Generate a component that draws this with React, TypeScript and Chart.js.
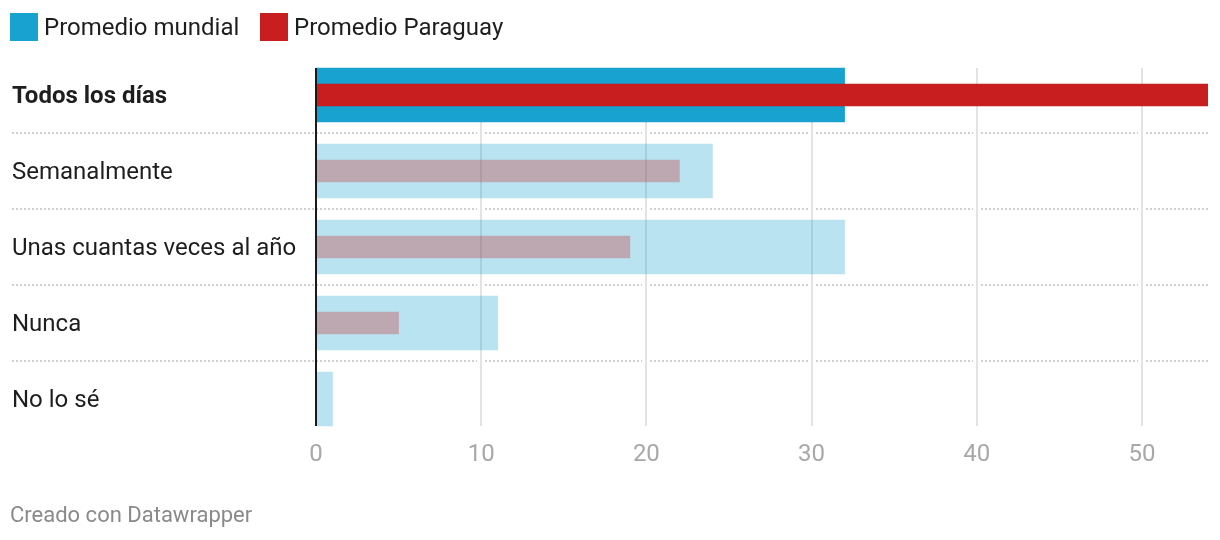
import React, { useEffect, useRef } from "react";
import { Chart, registerables } from "chart.js";

Chart.register(...registerables);

const categories = ["Todos los días", "Semanalmente", "Unas cuantas veces al año", "Nunca", "No lo sé"];
const mundial = [32, 24, 32, 11, 1];
const paraguay = [54, 22, 19, 5, 0];
const xTicks = [0, 10, 20, 30, 40, 50];
const xMax = 54;
const seriesNames = ["Promedio mundial", "Promedio Paraguay"];

const BLUE = "#18a2d0";
const BLUE_FADED = "rgba(24,162,208,0.3)";
const RED = "#c81e1f";
const RED_FADED = "rgba(200,30,31,0.3)";
const FONT = "Roboto";

const overlay = {
  id: "overlay",
  beforeDatasetsDraw(chart: any) {
    const { ctx, scales } = chart;
    const x = scales.x;
    const y = scales.y;
    const gridXs = xTicks.filter((v) => v !== 0).map((v) => Math.round(x.getPixelForValue(v)));
    const top = y.getPixelForValue(0) - 27;
    const bottom = y.getPixelForValue(categories.length - 1) + 27;
    ctx.save();
    // dotted row separators
    ctx.strokeStyle = "#cfcfcf";
    ctx.lineWidth = 2;
    ctx.setLineDash([2, 2]);
    for (let i = 0; i < categories.length - 1; i++) {
      const yy = Math.round((y.getPixelForValue(i) + y.getPixelForValue(i + 1)) / 2);
      let start = 12;
      const segs: number[][] = [];
      gridXs.forEach((gx: number) => {
        segs.push([start, gx - 4]);
        start = gx + 4;
      });
      segs.push([start, chart.chartArea.right]);
      segs.forEach(([a, b]) => {
        ctx.beginPath();
        ctx.moveTo(a, yy);
        ctx.lineTo(b, yy);
        ctx.stroke();
      });
    }
    // vertical grid lines (under bars)
    ctx.setLineDash([]);
    ctx.strokeStyle = "#e3e3e3";
    ctx.lineWidth = 2;
    gridXs.forEach((px: number) => {
      ctx.beginPath();
      ctx.moveTo(px, top);
      ctx.lineTo(px, bottom);
      ctx.stroke();
    });
    ctx.restore();
  },
  afterDatasetsDraw(chart: any) {
    const { ctx, scales } = chart;
    const x = scales.x;
    const y = scales.y;
    const top = y.getPixelForValue(0) - 27;
    const bottom = y.getPixelForValue(categories.length - 1) + 27;
    ctx.save();
    const zx = Math.round(x.getPixelForValue(0));
    ctx.strokeStyle = "#1a1a1a";
    ctx.lineWidth = 2;
    ctx.beginPath();
    ctx.moveTo(zx, top);
    ctx.lineTo(zx, bottom);
    ctx.stroke();
    ctx.restore();
  },
};

export default function App() {
  const ref = useRef<HTMLCanvasElement | null>(null);

  useEffect(() => {
    if (!ref.current) return;
    const chart = new Chart(ref.current, {
      type: "bar",
      data: {
        labels: categories,
        datasets: [
          {
            label: seriesNames[1],
            data: paraguay,
            backgroundColor: paraguay.map((_, i) => (i === 0 ? RED : RED_FADED)),
            barThickness: 22,
            grouped: false,
            order: 0,
            borderWidth: 0,
          },
          {
            label: seriesNames[0],
            data: mundial,
            backgroundColor: mundial.map((_, i) => (i === 0 ? BLUE : BLUE_FADED)),
            barThickness: 54,
            grouped: false,
            order: 1,
            borderWidth: 0,
          },
        ],
      },
      options: {
        indexAxis: "y",
        animation: false,
        responsive: false,
        devicePixelRatio: 1,
        layout: { padding: { left: 12, right: 12, top: 57, bottom: 63 } },
        plugins: { legend: { display: false }, tooltip: { enabled: false } },
        scales: {
          y: {
            type: "category",
            grid: { display: false, drawTicks: false },
            border: { display: false },
            ticks: {
              color: "#1e1e1e",
              crossAlign: "far",
              padding: 0,
              labelOffset: 2,
              font: (c: any) => ({ family: FONT, size: 24, weight: c.index === 0 ? "bold" : "normal" }),
            },
            afterFit: (s: any) => {
              s.width = 304;
            },
          },
          x: {
            min: 0,
            max: xMax,
            grid: { display: false, drawTicks: false },
            border: { display: false },
            ticks: {
              color: "#a8a8a8",
              padding: 4,
              maxRotation: 0,
              font: { family: FONT, size: 24 },
            },
            afterBuildTicks: (s: any) => {
              s.ticks = xTicks.map((v) => ({ value: v }));
            },
            afterFit: (s: any) => {
              s.height = 40;
            },
          },
        },
      },
      plugins: [overlay],
    } as any);
    return () => chart.destroy();
  }, []);

  const legendColors = [BLUE, RED];
  const legendLeft = [10, 260];

  return (
    <div style={{ position: "fixed", left: 0, top: 0, width: 1220, height: 540, background: "#fff", fontFamily: FONT }}>
      <canvas ref={ref} width={1220} height={540} style={{ position: "absolute", left: 0, top: 0 }} />
      {seriesNames.map((n, i) => (
        <div
          key={n}
          style={{
            position: "absolute",
            left: legendLeft[i],
            top: 13,
            height: 28,
            display: "flex",
            alignItems: "center",
            fontSize: 24,
            color: "#1e1e1e",
            whiteSpace: "nowrap",
          }}
        >
          <span style={{ display: "inline-block", width: 28, height: 28, background: legendColors[i], marginRight: 6 }} />
          {n}
        </div>
      ))}
      <div style={{ position: "absolute", left: 10, top: 501, fontSize: 22, color: "#8a8a8a", lineHeight: "28px" }}>
        Creado con Datawrapper
      </div>
    </div>
  );
}
